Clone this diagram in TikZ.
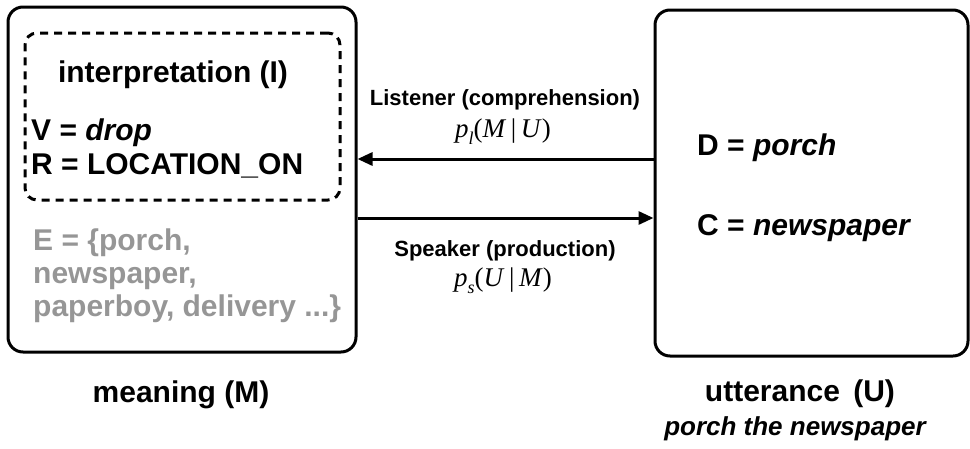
\documentclass[tikz,border=0pt]{standalone}
\usepackage{fontspec}
\setmainfont{Liberation Sans}
\newfontfamily\tmsfam{Liberation Serif}
\usetikzlibrary{arrows.meta}
\definecolor{egray}{RGB}{150,150,150}
\newcommand\setfs[1]{\fontsize{#1}{#1}\selectfont}
\newcommand\subtxt[1]{\raisebox{-0.28em}{\setfs{18}\itshape #1}}
\begin{document}
\begin{tikzpicture}[x=1pt,y=-1pt,
  bigbox/.style={draw,line width=3pt,rounded corners=15pt,inner sep=0pt},
  dashbox/.style={draw,line width=3pt,dash pattern=on 8pt off 6pt,rounded corners=12pt,inner sep=0pt},
  txt/.style={inner sep=0pt,font=\setfs{30}\bfseries},
  lbl/.style={inner sep=0pt,font=\setfs{22}\bfseries},
  mth/.style={inner sep=0pt,font=\tmsfam\setfs{27}},
  arr/.style={line width=3pt,-{Triangle[length=15pt,width=13pt]}}]
\useasboundingbox (0,0) rectangle (970,448);
\node[bigbox,minimum width=348pt,minimum height=345pt] (M) at (182,179.5) {};
\node[bigbox,minimum width=313pt,minimum height=346pt] (U) at (811.5,183) {};
\node[dashbox,minimum width=315pt,minimum height=167pt] (I) at (182.5,116.5) {};
\node[txt,anchor=base] (it) at (173,82) {interpretation (I)};
\node[txt,anchor=base west] (v) at (31,140) {V = \textit{drop}};
\node[txt,anchor=base west] (r) at (31,174) {R = LOCATION\_ON};
\node[txt,anchor=base west,text=egray] (e1) at (33,250) {E = \{porch,};
\node[txt,anchor=base west,text=egray] (e2) at (33,283) {newspaper,};
\node[txt,anchor=base west,text=egray] (e3) at (33,316) {paperboy, delivery ...\}};
\node[txt,anchor=base west] (d) at (697,155) {D = \textit{porch}};
\node[txt,anchor=base west] (c) at (697,235) {C = \textit{newspaper}};
\node[lbl,anchor=base] (ls) at (505,105) {Listener (comprehension)};
\node[mth,anchor=base] (pl) at (503,137) {\textit{p}\subtxt{l}(\textit{M}\,|\,\textit{U})};
\node[lbl,anchor=base] (sp) at (505,256) {Speaker (production)};
\node[mth,anchor=base] (ps) at (503,286) {\textit{p}\subtxt{s}(\textit{U}\,|\,\textit{M})};
\node[txt,anchor=base] (mm) at (181,402) {meaning (M)};
\node[txt,anchor=base] (uu) at (800,401) {utterance\, (U)};
\node[inner sep=0pt,font=\setfs{26}\bfseries\itshape,anchor=base] (ex) at (795,435) {porch the newspaper};
\coordinate (ya) at (0,159);
\coordinate (yb) at (0,218);
\draw[arr] (U.west |- ya) -- (M.east |- ya);
\draw[arr] (M.east |- yb) -- (U.west |- yb);
\end{tikzpicture}
\end{document}
